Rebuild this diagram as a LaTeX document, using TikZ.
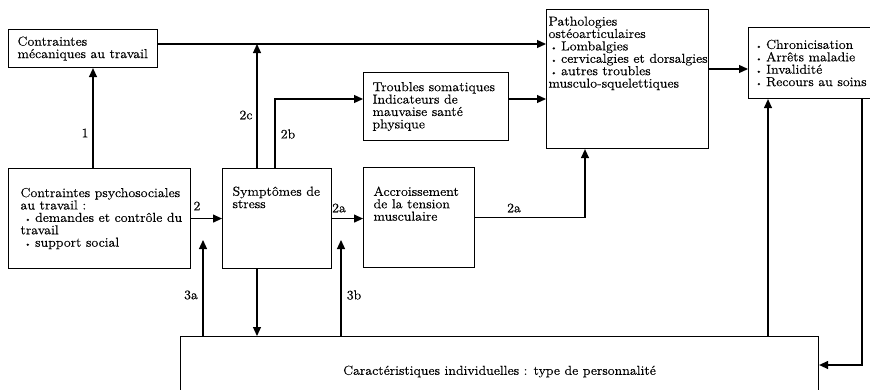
\documentclass[tikz,border=0pt]{standalone}
\usepackage{fontspec}
\setmainfont{lmroman12-regular}[Extension=.otf,FakeStretch=1.08,FakeBold=0.4]
\usetikzlibrary{arrows.meta}
\tikzset{>={Triangle[length=9pt,width=8pt]}}
\newcommand{\corps}{\fontsize{13}{12.4}\selectfont}
\newcommand{\puce}{{\fontsize{8}{8}\selectfont\textbullet}\hspace{4pt}}
\newcommand{\bloc}[5][c]{\parbox[c][#3][#1]{#2}{\raggedright\leftskip=#4\relax #5}}

\begin{document}
\begin{tikzpicture}[x=1pt,y=-1pt,
    boite/.style={draw,line width=1.1pt,inner sep=0pt,anchor=north west,font=\corps},
    fleche/.style={line width=1.2pt,->},
    num/.style={font=\corps,inner sep=1pt}]
    \clip (0,0) rectangle (870,389);
    % boites
    \node[boite] (meca) at (8,29) {\bloc{149pt}{38pt}{9pt}{Contraintes\\mécaniques au travail}};
    \node[boite] (psych) at (8,168) {\bloc{182pt}{100pt}{12pt}{Contraintes psychosociales\\au travail :\\\hspace*{4pt}\puce demandes et contrôle du\\travail\\\hspace*{4pt}\puce support social}};
    \node[boite] (symp) at (222,168) {\bloc[t]{109pt}{100pt}{10pt}{\vspace*{18pt}Symptômes de\\stress}};
    \node[boite] (accr) at (363,167) {\bloc[t]{111pt}{100pt}{10pt}{\vspace*{19pt}Accroissement\\de la tension\\musculaire}};
    \node[boite] (trb) at (363,72) {\bloc{145pt}{68pt}{9pt}{Troubles somatiques\\Indicateurs de\\mauvaise santé\\physique}};
    \node[boite] (path) at (546,9) {\bloc[t]{162pt}{139pt}{2pt}{\vspace*{7pt}Pathologies\\ostéoarticulaires\\\hspace*{2pt}\puce Lombalgies\\\mbox{\hspace*{2pt}\puce cervicalgies et dorsalgies}\\\hspace*{2pt}\puce autres troubles\\musculo-squelettiques}};
    \node[boite] (chron) at (748,27) {\bloc{127pt}{71pt}{7pt}{\puce Chronicisation\\\puce Arrêts maladie\\\puce Invalidité\\\puce Recours au soins}};
    \node[boite] (indiv) at (180,336) {\parbox[c][70pt][c]{638pt}{\centering Caractéristiques individuelles : type de personnalité}};
    % reperes
    \coordinate (c1) at (93,0);
    \coordinate (c2c) at (257,0);
    \coordinate (c2b) at (275,0);
    \coordinate (c3a) at (203,0);
    \coordinate (c3b) at (341,0);
    \coordinate (c2ap) at (585,0);
    \coordinate (cchr) at (768,0);
    \coordinate (cret) at (862,0);
    \coordinate (h1) at (0,44);
    \coordinate (h2) at (0,99);
    \coordinate (h3) at (0,69);
    \coordinate (h4) at (0,365);
    \coordinate (t3a) at (203,240);
    \coordinate (t3b) at (341,240);
    % fleches
    \draw[fleche] (psych.north -| c1) -- (meca.south -| c1);
    \draw[fleche] (meca.east |- h1) -- (path.west |- h1);
    \draw[fleche] (symp.north -| c2c) -- (c2c |- h1);
    \draw[fleche] (symp.north -| c2b) |- (trb.west |- h2);
    \draw[fleche] (trb.east |- h2) -- (path.west |- h2);
    \draw[fleche] (path.east |- h3) -- (chron.west |- h3);
    \draw[fleche] (psych.east) -- (symp.west);
    \draw[fleche] (symp.east) -- (accr.west |- symp.east);
    \draw[fleche] (accr.east) -| (path.south -| c2ap);
    \draw[fleche] (indiv.north -| c3a) -- (t3a);
    \draw[fleche] (indiv.north -| c3b) -- (t3b);
    \draw[fleche] (symp.south -| c2c) -- (indiv.north -| c2c);
    \draw[fleche] (indiv.north -| cchr) -- (chron.south -| cchr);
    \draw[fleche] (chron.south -| cret) |- (indiv.east |- h4);
    % etiquettes
    \node[num] (n1) at (85,133) {1};
    \node[num] (n2c) at (246,115) {2c};
    \node[num] (n2b) at (288,134) {2b};
    \node[num] (n2) at (197,206) {2};
    \node[num] (n2a) at (339,208) {2a};
    \node[num] (n2ab) at (514,208) {2a};
    \node[num] (n3a) at (191,295) {3a};
    \node[num] (n3b) at (354,295) {3b};
\end{tikzpicture}
\end{document}
